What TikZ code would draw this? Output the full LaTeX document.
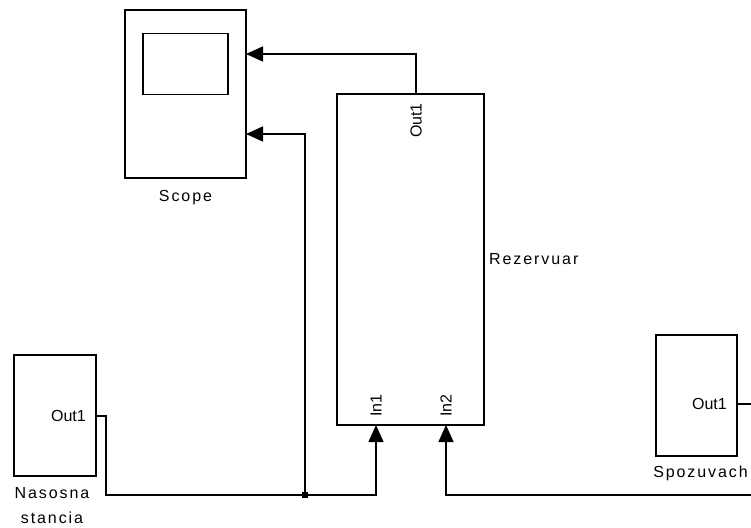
\documentclass[tikz,border=0pt]{standalone}
\usepackage{fontspec}
\newfontfamily\labelfont[LetterSpace=12]{Liberation Sans}
\newfontfamily\portfont{Liberation Sans}
\usetikzlibrary{arrows.meta,positioning,calc}

\begin{document}
\begin{tikzpicture}[x=1pt, y=-1pt,
            block/.style={draw, line width=1.4pt, inner sep=0pt, outer sep=0pt},
            wire/.style={line width=1.4pt},
            signal/.style={wire, -{Triangle[length=17pt, width=15pt]}},
            blocklabel/.style={font={\labelfont\fontsize{16}{25}\selectfont}, align=center, inner sep=0pt},
            portlabel/.style={font={\portfont\fontsize{16}{18}\selectfont}, inner sep=0pt}
        ]
            \useasboundingbox (0,0) rectangle (751,527);

            % blocks
            \node[block, minimum width=121pt, minimum height=168pt] (scope) at (185.5,94) {};
            \node[block, minimum width=85pt, minimum height=61pt] (screen) at (185.5,64) {};
            \node[block, minimum width=147pt, minimum height=331pt] (rez) at (410.5,259.5) {};
            \node[block, minimum width=82pt, minimum height=121pt] (nasosna) at (55,415.5) {};
            \node[block, minimum width=81pt, minimum height=121pt] (spoz) at (696.5,395.5) {};

            % block names
            \node[blocklabel, below=12pt of scope] {Scope};
            \node[blocklabel, right=5pt of rez] {Rezervuar};
            \node[blocklabel, below=11pt of nasosna, xshift=-3pt] {Nasosna\\stancia};
            \node[blocklabel, below=10pt of spoz, xshift=4pt] {Spozuvach};

            % ports
            \coordinate (scopein1) at (246,54);
            \coordinate (scopein2) at (246,134);
            \coordinate (rezout) at (416,94);
            \coordinate (rezin1) at (376,425);
            \coordinate (rezin2) at (446,425);
            \coordinate (nasout) at (96,416);
            \coordinate (spozout) at (737,404);
            \coordinate (junc) at (305,495);
            \coordinate (busright) at (762,495);

            % port names
            \node[portlabel, anchor=east] at ($(nasout)+(-10,0)$) {Out1};
            \node[portlabel, anchor=east] at ($(spozout)+(-10,0)$) {Out1};
            \node[portlabel, rotate=90, anchor=east] at ($(rezout)+(0,9)$) {Out1};
            \node[portlabel, rotate=90, anchor=west] at ($(rezin1)+(0,-8)$) {In1};
            \node[portlabel, rotate=90, anchor=west] at ($(rezin2)+(0,-8)$) {In2};

            % signals
            \draw[signal] (rezout) |- (scopein1);
            \draw[signal] (nasout) -- ++(10,0) |- (junc) -| (rezin1);
            \draw[signal] (junc) |- (scopein2);
            \draw[signal] (spozout) -| (busright) -| (rezin2);
            \fill ($(junc)+(-3,-3)$) rectangle ($(junc)+(3,3)$);

        \end{tikzpicture}
\end{document}
